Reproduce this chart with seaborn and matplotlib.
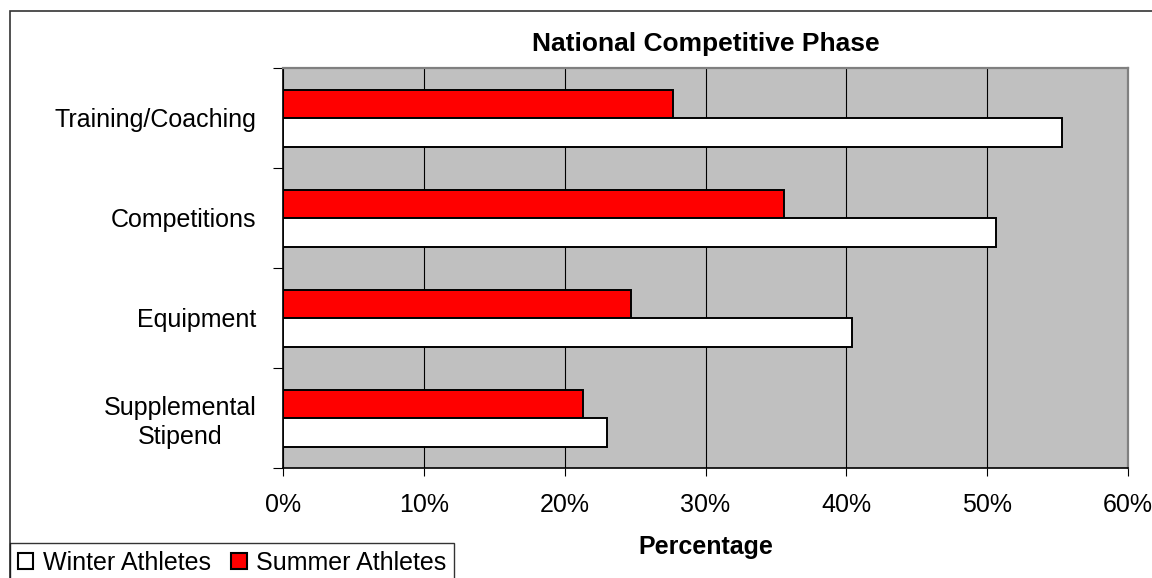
import matplotlib
matplotlib.use("Agg")
import matplotlib.pyplot as plt
from matplotlib.patches import Patch, Rectangle
from matplotlib.ticker import FixedLocator, FuncFormatter
import numpy as np
import pandas as pd
import seaborn as sns

# Share of athletes reporting each need (%)
categories = ["Training/Coaching", "Competitions", "Equipment", "Supplemental\nStipend"]
summer_values = [27.7, 35.6, 24.7, 21.3]
winter_values = [55.3, 50.6, 40.4, 23.0]
groups = ["Summer Athletes", "Winter Athletes"]
x_ticks = [0, 10, 20, 30, 40, 50, 60]

df = pd.DataFrame({
    "Category": categories * 2,
    "Percentage": summer_values + winter_values,
    "Group": [groups[0]] * len(categories) + [groups[1]] * len(categories),
})

sns.set_style("white")
plt.rcParams["font.family"] = ["Liberation Sans", "DejaVu Sans"]
plt.rcParams.update({"text.color": "black", "axes.labelcolor": "black",
                     "xtick.color": "black", "ytick.color": "black"})

W, H = 1152, 578
fig = plt.figure(figsize=(W / 100, H / 100), dpi=100)
fig.patch.set_facecolor("white")

# axes placed in pixel terms
left, right, top, bottom = 283, 1128, 68, 468
ax = fig.add_axes([left / W, 1 - bottom / H, (right - left) / W, (bottom - top) / H])
ax.set_facecolor("#C0C0C0")

palette = {"Summer Athletes": "#FF0000", "Winter Athletes": "#FFFFFF"}
sns.barplot(data=df, y="Category", x="Percentage", hue="Group", hue_order=groups,
            palette=palette, orient="h", width=0.57, edgecolor="black",
            linewidth=1.4, saturation=1, legend=False, ax=ax, zorder=3)

ax.set_xlim(0, 60)
ax.set_ylim(3.5, -0.5)

# vertical gridlines
ax.xaxis.set_major_locator(FixedLocator(x_ticks))
ax.xaxis.set_major_formatter(FuncFormatter(lambda v, p: f"{v:.0f}%"))
ax.grid(axis="x", color="black", linewidth=0.8, zorder=1)
ax.grid(axis="y", visible=False)
ax.set_axisbelow(True)

# category labels at centers, tick marks on the boundaries
ax.yaxis.set_minor_locator(FixedLocator(np.arange(-0.5, len(categories), 1.0)))
ax.tick_params(axis="y", which="major", length=0, pad=19, labelsize=18, labelcolor="black")
ax.tick_params(axis="y", which="minor", length=7.5, width=0.8, color="black", left=True)
ax.tick_params(axis="x", which="major", length=6, width=0.8, color="black",
               bottom=True, pad=12, labelsize=18, labelcolor="black")
for lab in ax.get_yticklabels():
    lab.set_multialignment("center")
    lab.set_linespacing(1.25)

for side in ("left", "bottom"):
    ax.spines[side].set_color("black")
    ax.spines[side].set_linewidth(1.2)
for side in ("top", "right"):
    ax.spines[side].set_color("#808080")
    ax.spines[side].set_linewidth(1.6)

ax.set_ylabel("")
ax.set_xlabel("Percentage", fontsize=18, fontweight="bold", labelpad=13, color="black")
ax.set_title("National Competitive Phase", fontsize=19, fontweight="bold", pad=12,
             color="black")

# outer chart frame
fig.patches.append(Rectangle((10 / W, -0.05), 1.2, 1 - 11 / H + 0.05,
                             transform=fig.transFigure, fill=False,
                             edgecolor="#333333", linewidth=1.2, zorder=0))

handles = [Patch(facecolor="white", edgecolor="black", linewidth=1.5, label="Winter Athletes"),
           Patch(facecolor="#FF0000", edgecolor="black", linewidth=1.5, label="Summer Athletes")]
leg = fig.legend(handles=handles, loc="upper left", bbox_to_anchor=(10 / W, 1 - 543 / H),
                 ncol=2, fontsize=18, frameon=True, fancybox=False, borderpad=0.3,
                 handlelength=0.62, handleheight=0.62, handletextpad=0.4,
                 columnspacing=0.8, borderaxespad=0)
leg.get_frame().set_edgecolor("black")
leg.get_frame().set_linewidth(1.0)
for t in leg.get_texts():
    t.set_color("black")

fig.savefig("out.png", dpi=100, facecolor="white")
